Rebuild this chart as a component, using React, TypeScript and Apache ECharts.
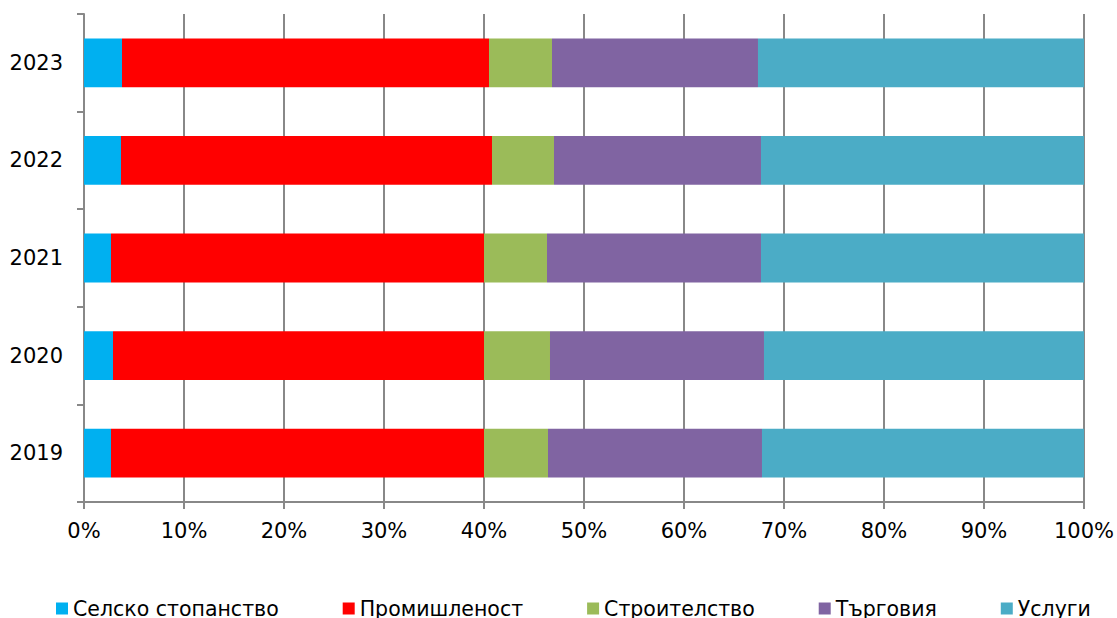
import React, { useEffect, useRef } from "react";
import * as echarts from "echarts";

const years = ["2019", "2020", "2021", "2022", "2023"];
const seriesNames = ["Селско стопанство", "Промишленост", "Строителство", "Търговия", "Услуги"];
const agriculture = [2.7, 2.9, 2.7, 3.7, 3.8];
const industry = [37.3, 37.1, 37.3, 37.1, 36.7];
const construction = [6.4, 6.6, 6.3, 6.2, 6.3];
const trade = [21.4, 21.4, 21.4, 20.7, 20.6];
const services = [32.2, 32.0, 32.3, 32.3, 32.6];
const colors = ["#00B0F0", "#FF0000", "#9BBB59", "#8064A2", "#4BACC6"];
const xTicks = [0, 10, 20, 30, 40, 50, 60, 70, 80, 90, 100];

const FONT = "DejaVu Sans";

export default function App() {
  const ref = useRef<HTMLDivElement>(null);
  useEffect(() => {
    if (!ref.current) return;
    const chart = echarts.init(ref.current, null, { renderer: "svg" });
    const values = [agriculture, industry, construction, trade, services];
    chart.setOption({
      animation: false,
      textStyle: { fontFamily: FONT },
      grid: { left: 84, right: 33, top: 14, bottom: 116, containLabel: false },
      legend: {
        left: 56,
        top: 598,
        width: 1061,
        padding: 0,
        itemWidth: 12,
        itemHeight: 12,
        itemGap: 64,
        icon: "rect",
        textStyle: { fontFamily: FONT, fontSize: 20.5, color: "#000" },
        data: seriesNames,
      },
      xAxis: {
        type: "value",
        min: xTicks[0],
        max: xTicks[xTicks.length - 1],
        interval: 10,
        axisLine: { show: true, lineStyle: { color: "#888", width: 2 } },
        axisTick: { show: true, length: 7, lineStyle: { color: "#888", width: 2 } },
        axisLabel: {
          formatter: (v: number) => v + "%",
          fontFamily: FONT,
          fontSize: 21,
          color: "#000",
          margin: 18,
        },
        splitLine: { show: true, lineStyle: { color: "#888", width: 2 } },
      },
      yAxis: {
        type: "category",
        data: years,
        axisLine: { show: true, lineStyle: { color: "#888", width: 2 } },
        axisTick: { show: true, length: 7, lineStyle: { color: "#888", width: 2 } },
        axisLabel: { fontFamily: FONT, fontSize: 21, color: "#000", margin: 21 },
      },
      series: seriesNames.map((name, i) => ({
        name,
        type: "bar",
        stack: "total",
        barCategoryGap: "50%",
        data: values[i],
        itemStyle: { color: colors[i] },
      })),
    });
    return () => chart.dispose();
  }, []);
  return (
    <div
      ref={ref}
      style={{ position: "fixed", left: 0, top: 0, width: 1117, height: 618, background: "#fff" }}
    />
  );
}
